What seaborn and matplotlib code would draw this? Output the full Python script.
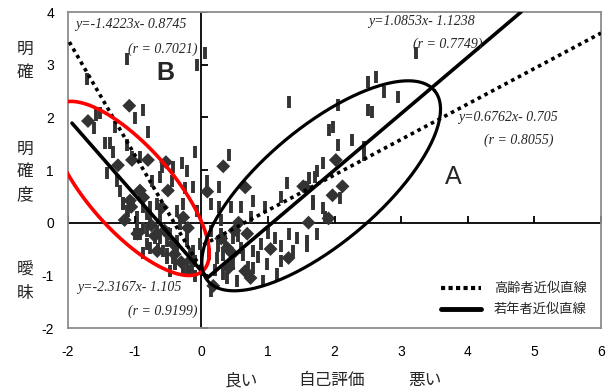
import numpy as np
import pandas as pd
import matplotlib
matplotlib.use("Agg")
import matplotlib.pyplot as plt
import seaborn as sns

# --- data ---
# vertical-dash markers
dash_x = [-1.11, -0.06, 0.05, -1.71, 1.31, -0.87, -1.58, -1.52, -1.61, -1.29, -0.99, -0.80,
          -1.44, -1.37, -1.32, -1.11, -1.04, -0.92, -0.59, -0.44, -0.21, -0.09, 0.41, -1.41,
          -1.26, -0.74, -0.62, -0.42, -0.29, -0.24, -0.12, 0.26, 1.29, 1.19, 1.56,
          -1.11, -1.02, -0.87, -0.77, -0.66, -0.51, -0.42, -0.32, -0.21, -0.12, -0.02, -0.06,
          -0.27, -1.07, -0.89, -0.81, -0.69, -0.65, -0.51, -0.39, -0.27, -0.17, -0.96, -0.87,
          -0.50, -0.36, -0.21, -0.17, -0.36, -1.17, -0.92, -0.99, -0.81, -0.09, -0.62, -1.22,
          -1.17, -1.10, -0.96, -0.87, -0.77, -0.66, -0.96, -0.81, -0.62, -0.47, -0.36, -0.21,
          -0.12, -0.77, -0.57, -0.51, -0.39, -0.27, -0.14, -0.09, -0.47,
          0.14, 0.26, 0.44, 0.59, 0.78, 0.96, 1.71, 1.67, 1.86, 0.29, 0.36, 0.48, 0.48, 0.59,
          0.78, 0.89, 0.99, 1.19, 1.11, 1.31, 1.44, 1.59, 1.74, 1.14, 0.78, 0.54, 0.33, 0.24,
          0.93, 1.38, 0.74, 0.09, 0.14, 1.59, 1.68, 1.82, 2.09,
          0.25, 0.32, 0.45, 0.55, 0.62, 0.70, 0.20, 0.38, 0.85, 1.00, 1.20, 0.15, 0.30, 0.12,
          3.22, 2.62, 2.50, 2.74, 2.96, 2.51, 2.57, 2.05, 1.91, 1.98, 2.05, 2.27, 2.44, 2.44,
          1.82, 1.74, 1.61]
dash_y = [3.10, 3.00, 3.23, 2.72, 2.29, 2.14, 2.05, 2.08, 1.80, 1.82, 1.99, 1.72,
          1.51, 1.51, 1.34, 1.47, 1.24, 1.24, 1.05, 0.80, 0.99, 1.34, 1.28, 0.94,
          0.80, 0.80, 0.86, 1.05, 1.13, 0.65, 0.67, 0.67, 0.75, 0.48, 0.67,
          0.23, 0.36, -0.10, 0.29, -0.15, -0.34, -0.67, -0.02, -0.86, -0.67, -0.40, 0.23,
          0.36, 0.38, 0.55, 0.17, -0.29, -0.50, -0.59, -0.76, -0.86, -0.92, -0.10, -0.57,
          -0.19, -0.34, -0.29, -0.59, 0.23, 0.38, -0.21, -0.21, -0.40, -1.01, 0.13, 0.61,
          0.36, 0.23, 0.10, 0.29, 0.13, 0.36, -0.21, -0.15, -0.29, -0.21, -0.48, -0.34,
          -0.54, -0.48, -0.54, -0.67, -0.78, -0.86, -0.92, -0.73, -0.92,
          0.36, 0.29, 0.29, 0.29, 0.42, 0.29, 0.86, 0.42, 0.10, -0.21, -0.34, -0.29, -0.78, -0.48,
          -0.54, -0.40, -0.78, -0.73, -0.29, -0.21, -0.29, -0.34, -0.21, -0.98, -0.86, -1.11, -0.98, -0.67,
          -1.11, -0.54, 0.10, 0.80, -1.30, -0.44, 0.36, 0.27, 0.46,
          -0.45, -0.62, -0.70, -0.25, -0.62, -0.85, -0.90, -1.05, -0.65, -0.20, -0.45, -0.15, 0.05, -0.60,
          3.23, 2.77, 2.68, 2.49, 2.39, 2.14, 2.10, 2.24, 1.76, 1.82, 1.47, 1.57, 1.28, 1.43,
          1.13, 0.99, 0.84]

# diamond markers
diamond_x = [-1.08, -1.70, -1.25, -1.04, -0.80, -0.53, -0.92, -0.50, -1.07, 0.09, 0.33, 0.66,
             -0.96, -0.66, -0.42, -0.87, -0.59, -0.27, -1.05, -0.75, -0.30, -0.55, -0.15,
             -0.70, -0.40, -1.15, -0.20,
             0.56, 0.69, 1.04, 1.31, 1.56, 1.61, 0.39, 0.47, 0.74, 0.66, 0.18, 0.41,
             0.30, 0.50, 2.02, 1.53, 2.12, 1.97, 1.91]
diamond_y = [2.22, 1.93, 1.09, 1.19, 1.19, 1.15, 0.61, 0.61, 0.42, 0.59, 1.07, 0.67,
             -0.21, -0.54, -0.40, 0.48, 0.29, 0.10, 0.30, -0.05, -0.75, -0.15, -0.70,
             -0.25, -0.60, 0.05, -0.10,
             0.00, -0.21, -0.50, -0.67, 0.67, 0.00, -0.48, -0.59, -1.05, -0.92, -1.20, -0.86,
             -0.30, -0.15, 1.19, 0.69, 0.69, 0.52, 0.08]

# fitted lines as drawn: start/end points
old_lines = [((-1.98, 0.05), (3.43, -1.00)), ((0.03, 6.0), (-0.42, 3.60))]
young_lines = [((-1.94, 0.06), (1.89, -1.00)), ((0.08, 4.80), (-1.06, 4.00))]

equations = ["y=-1.4223x- 0.8745", "y=1.0853x- 1.1238", "y=0.6762x- 0.705", "y=-2.3167x- 1.105"]
r_labels = ["(r = 0.7021)", "(r = 0.7749)", "(r = 0.8055)", "(r = 0.9199)"]
legend_labels = ["高齢者近似直線", "若年者近似直線"]
x_ticks = [-2, -1, 0, 1, 2, 3, 4, 5, 6]
y_ticks = [-2, -1, 0, 1, 2, 3, 4]

sns.set_style("white")
plt.rcParams["font.family"] = ["Liberation Sans", "Noto Sans CJK JP", "DejaVu Sans"]
plt.rcParams["axes.unicode_minus"] = False

W, H = 614, 389
fig = plt.figure(figsize=(W / 100, H / 100), dpi=100)
left, right, top, bottom = 68, 601, 12, 328
ax = fig.add_axes([left / W, 1 - bottom / H, (right - left) / W, (bottom - top) / H])
ax.set_xlim(-2, 6)
ax.set_ylim(-2, 4)
sx = (right - left) / 8.0
sy = (bottom - top) / 6.0

dash_df = pd.DataFrame({"x": dash_x, "y": dash_y})
diam_df = pd.DataFrame({"x": diamond_x, "y": diamond_y})
sns.scatterplot(data=dash_df, x="x", y="y", marker="|", s=75, color="#333333",
                linewidth=2.8, ax=ax, zorder=2)
sns.scatterplot(data=diam_df, x="x", y="y", marker="D", s=50, color="#333333",
                edgecolor="none", ax=ax, zorder=2)

# axes through origin
ax.axhline(0, color="black", lw=1.3, zorder=1)
ax.axvline(0, color="black", lw=1.3, zorder=1)
ax.plot(np.zeros(len(y_ticks)), y_ticks, ls="none", marker=1, ms=5, mew=1.3, color="black")
ax.plot(x_ticks, np.zeros(len(x_ticks)), ls="none", marker=2, ms=5, mew=1.3, color="black")

for (xs, ys) in old_lines:
    ax.plot(xs, ys, color="black", lw=2.6, ls=(0, (1, 1.1)), zorder=3)
for (xs, ys) in young_lines:
    ax.plot(xs, ys, color="black", lw=2.6, zorder=3)

# proxies for legend
ax.plot([], [], color="black", lw=3, ls=(0, (1, 0.8)), label=legend_labels[0])
ax.plot([], [], color="black", lw=3.5, label=legend_labels[1])


def ellipse(cx, cy, a, b, ang):
    t = np.linspace(0, 2 * np.pi, 300)
    th = np.radians(ang)
    dx = a * np.cos(t) * np.cos(th) - b * np.sin(t) * np.sin(th)
    dy = a * np.cos(t) * np.sin(th) + b * np.sin(t) * np.cos(th)
    return cx + dx / sx, cy + dy / sy


ex, ey = ellipse(-1.07, 0.65, 110, 42, -48.6)
ax.plot(ex, ey, color="#ff0000", lw=2.6, zorder=4)
ex, ey = ellipse(1.80, 0.70, 148, 58, 40)
ax.plot(ex, ey, color="black", lw=2.3, zorder=4)

for s in ax.spines.values():
    s.set_color("#8c8c8c")
    s.set_linewidth(1.3)
ax.set_xticks(x_ticks)
ax.set_yticks(y_ticks)
ax.tick_params(length=0, labelsize=10, colors="black")
ax.tick_params(axis="x", pad=12)
ax.tick_params(axis="y", pad=10)
ax.set_xlabel("")
ax.set_ylabel("")

eqfont = dict(family="Liberation Serif", style="italic", fontsize=10)
ax.text(-1.89, 3.77, equations[0], ha="left", va="center", **eqfont)
ax.text(-0.06, 3.29, r_labels[0], ha="right", va="center", **eqfont)
ax.text(2.50, 3.82, equations[1], ha="left", va="center", **eqfont)
ax.text(3.70, 3.38, r_labels[1], ha="center", va="center", **eqfont)
ax.text(3.85, 1.99, equations[2], ha="left", va="center", **eqfont)
ax.text(4.24, 1.57, r_labels[2], ha="left", va="center", **eqfont)
ax.text(-1.86, -1.24, equations[3], ha="left", va="center", **eqfont)
ax.text(-0.06, -1.68, r_labels[3], ha="right", va="center", **eqfont)

ax.text(3.79, 0.86, "A", fontsize=18, ha="center", va="center", family="Liberation Sans")
ax.text(-0.54, 2.85, "B", fontsize=18, fontweight="bold", ha="center", va="center",
        family="Liberation Sans")

leg = ax.legend(loc="lower right", frameon=False, prop={"family": "Noto Sans CJK JP", "size": 9.5},
                handlelength=3.0, handletextpad=1.0, labelspacing=0.6,
                bbox_to_anchor=(0.995, 0.0))

jp = ["Noto Sans CJK JP", "DejaVu Sans"]
fig.text(25 / W, 1 - 61 / H, "明\n確", ha="center", va="center", fontsize=12,
         family=jp, linespacing=1.45)
fig.text(25 / W, 1 - 172 / H, "明\n確\n度", ha="center", va="center", fontsize=12,
         family=jp, linespacing=1.45)
fig.text(25 / W, 1 - 282 / H, "曖\n昧", ha="center", va="center", fontsize=12,
         family=jp, linespacing=1.45)
fig.text(241 / W, 1 - 381 / H, "良い", ha="center", va="center", fontsize=12, family=jp)
fig.text(332 / W, 1 - 381 / H, "自己評価", ha="center", va="center", fontsize=12, family=jp)
fig.text(425 / W, 1 - 381 / H, "悪い", ha="center", va="center", fontsize=12, family=jp)

fig.savefig("out.png", dpi=100)
